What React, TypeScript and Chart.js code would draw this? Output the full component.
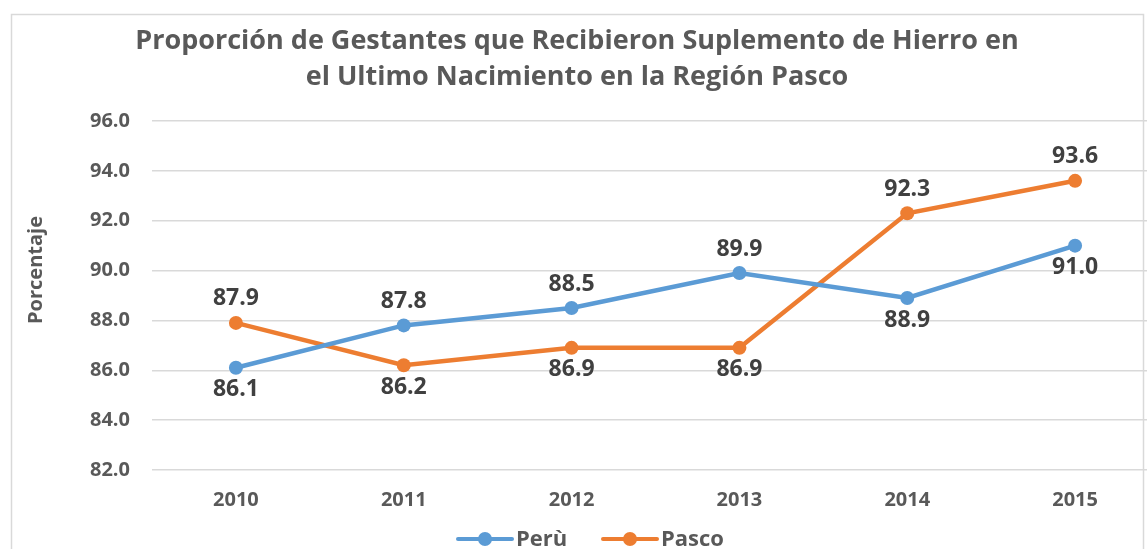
import React, { useEffect, useRef } from "react";
import { Chart, registerables } from "chart.js";

Chart.register(...registerables);

const categories = ["2010", "2011", "2012", "2013", "2014", "2015"];
const peruValues = [86.1, 87.8, 88.5, 89.9, 88.9, 91.0];
const pascoValues = [87.9, 86.2, 86.9, 86.9, 92.3, 93.6];
const peruLabelPos = ["below", "above", "above", "above", "below", "below"];
const pascoLabelPos = ["above", "below", "below", "below", "above", "above"];
const titleLines = [
  "Proporción de Gestantes que Recibieron Suplemento de Hierro en",
  "el Ultimo Nacimiento en la Región Pasco",
];
const yAxisTitle = "Porcentaje";
const seriesNames = ["Perù", "Pasco"];

const BLUE = "#5B9BD5";
const ORANGE = "#ED7D31";
const TEXT = "#595959";
const FONT = "'Open Sans', 'DejaVu Sans', sans-serif";

const W = 1200;
const H = 600;

const overlay = {
  id: "overlay",
  afterDraw(chart: any) {
    const ctx = chart.ctx;
    ctx.save();
    // outer border
    ctx.strokeStyle = "#d9d9d9";
    ctx.lineWidth = 1.5;
    ctx.strokeRect(11.5, 14.5, 1132, 560);

    // title
    ctx.fillStyle = TEXT;
    ctx.textAlign = "center";
    ctx.textBaseline = "middle";
    ctx.font = `bold 27px ${FONT}`;
    ctx.fillText(titleLines[0], 577, 41);
    ctx.fillText(titleLines[1], 577, 77);

    // y axis title
    ctx.save();
    ctx.translate(36, 270);
    ctx.rotate(-Math.PI / 2);
    ctx.font = `bold 20px ${FONT}`;
    ctx.fillText(yAxisTitle, 0, 0);
    ctx.restore();

    // data labels
    const posSets = [peruLabelPos, pascoLabelPos];
    ctx.font = `bold 23px ${FONT}`;
    ctx.fillStyle = "#404040";
    chart.data.datasets.forEach((ds: any, di: number) => {
      const meta = chart.getDatasetMeta(di);
      meta.data.forEach((pt: any, i: number) => {
        const v = ds.data[i] as number;
        const dy = posSets[di][i] === "above" ? -24 : 22;
        ctx.fillText(v.toFixed(1), pt.x, pt.y + dy);
      });
    });

    // legend
    const legendY = 539;
    const items = [
      { name: seriesNames[0], color: BLUE, x: 458 },
      { name: seriesNames[1], color: ORANGE, x: 603 },
    ];
    ctx.font = `bold 22px ${FONT}`;
    ctx.textAlign = "left";
    items.forEach((it) => {
      ctx.strokeStyle = it.color;
      ctx.lineWidth = 4;
      ctx.lineCap = "round";
      ctx.beginPath();
      ctx.moveTo(it.x, legendY);
      ctx.lineTo(it.x + 54, legendY);
      ctx.stroke();
      ctx.fillStyle = it.color;
      ctx.beginPath();
      ctx.arc(it.x + 27, legendY, 7, 0, Math.PI * 2);
      ctx.fill();
      ctx.fillStyle = TEXT;
      ctx.fillText(it.name, it.x + 58, legendY + 1);
    });
    ctx.restore();
  },
};

export default function App() {
  const ref = useRef<HTMLCanvasElement>(null);
  useEffect(() => {
    if (!ref.current) return;
    const chart = new Chart(ref.current, {
      type: "line",
      data: {
        labels: categories,
        datasets: [
          {
            label: seriesNames[0],
            data: peruValues,
            borderColor: BLUE,
            backgroundColor: BLUE,
            borderWidth: 4.5,
            pointRadius: 7,
            pointHoverRadius: 7,
            pointBorderWidth: 0,
            tension: 0,
          },
          {
            label: seriesNames[1],
            data: pascoValues,
            borderColor: ORANGE,
            backgroundColor: ORANGE,
            borderWidth: 4.5,
            pointRadius: 7,
            pointHoverRadius: 7,
            pointBorderWidth: 0,
            tension: 0,
          },
        ],
      },
      options: {
        responsive: false,
        animation: false,
        events: [],
        layout: { padding: { left: 0, top: 121, right: W - 1159, bottom: 0 } },
        plugins: {
          legend: { display: false },
          title: { display: false },
          tooltip: { enabled: false },
        },
        scales: {
          x: {
            type: "category",
            offset: true,
            grid: { display: false, drawTicks: false },
            border: { display: false },
            ticks: {
              color: TEXT,
              font: { family: FONT, size: 20, weight: "bold" },
              padding: 18,
            },
            afterFit: (s: any) => {
              s.height = H - 470;
            },
          },
          y: {
            min: 82,
            max: 96,
            grid: { color: "#d9d9d9", lineWidth: 1.5, drawTicks: false },
            border: { display: false },
            ticks: {
              stepSize: 2,
              color: TEXT,
              padding: 22,
              font: { family: FONT, size: 20, weight: "bold" },
              callback: (v: any) => Number(v).toFixed(1),
            },
            afterFit: (s: any) => {
              s.width = 152;
            },
          },
        },
      },
      plugins: [overlay],
    });
    return () => chart.destroy();
  }, []);
  return (
    <div style={{ position: "fixed", left: 0, top: 0, width: W, height: H, background: "#fff" }}>
      <canvas ref={ref} width={W} height={H} style={{ display: "block" }} />
    </div>
  );
}
